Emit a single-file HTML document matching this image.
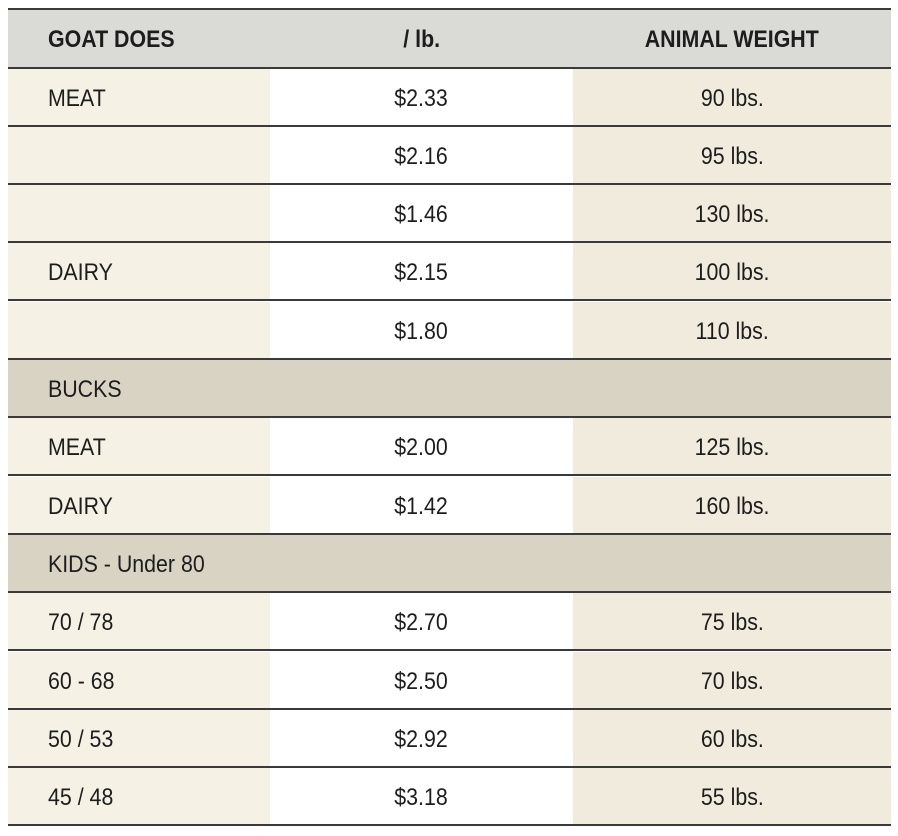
<!DOCTYPE html>
<html><head><meta charset="utf-8"><style>
body{margin:0;width:898px;height:836px;background:#fff;position:relative;overflow:hidden;font-family:"Liberation Sans Narrow","Liberation Sans",sans-serif;color:#1d1d1d}
.row{position:absolute;left:8px;width:883px;display:flex;border-bottom:2px solid #3a3a3a;box-sizing:border-box}
.c1{width:262px;background:#f5f1e5;padding-left:40px;box-sizing:border-box}
.c2{width:303px;background:#fff;text-align:center}
.c3{width:318px;background:#f0ebdc;text-align:center}
.row div{display:flex;align-items:center;font-size:24px;padding-top:4px;box-sizing:border-box}
.row span{display:inline-block;transform:scaleX(0.89);white-space:nowrap}
.c1 span{transform-origin:left center}
.c2 span,.c3 span{transform-origin:center center}
.c2,.c3{justify-content:center}
.hdr div{background:#dadad6;font-weight:bold}
.sec div{background:#d9d3c4}
</style></head><body>
<div style="position:absolute;left:8px;top:8px;width:883px;height:2px;background:#3a3a3a"></div>
<div id="tbl"></div>
<script>
const labels=["MEAT","","","DAIRY","","BUCKS","MEAT","DAIRY","KIDS - Under 80","70 / 78","60 - 68","50 / 53","45 / 48"];
const prices=["$2.33","$2.16","$1.46","$2.15","$1.80","","$2.00","$1.42","","$2.70","$2.50","$2.92","$3.18"];
const weights=["90 lbs.","95 lbs.","130 lbs.","100 lbs.","110 lbs.","","125 lbs.","160 lbs.","","75 lbs.","70 lbs.","60 lbs.","55 lbs."];
const sections=[5,8];
const tbl=document.getElementById('tbl');
function mk(top,h,cls,a,b,c,name){
  const r=document.createElement('div');
  
  
  r.className='row '+cls;r.style.top=top+'px';r.style.height=h+'px';
  [['c1',a],['c2',b],['c3',c]].forEach(([k,t])=>{
    const d=document.createElement('div');
    
    
    d.className=k;
    const s=document.createElement('span');
    s.textContent=t;d.appendChild(s);r.appendChild(d);});
  tbl.appendChild(r);
}
mk(10,58.5,'hdr','GOAT DOES','/ lb.','ANIMAL WEIGHT','header-row');
for(let i=0;i<labels.length;i++){
  const top=Math.round(68.5+i*58.3);
  mk(top,58.3,sections.includes(i)?'sec':'',labels[i],prices[i],weights[i],'table-row-'+(i+1));
}
</script>
</body></html>
